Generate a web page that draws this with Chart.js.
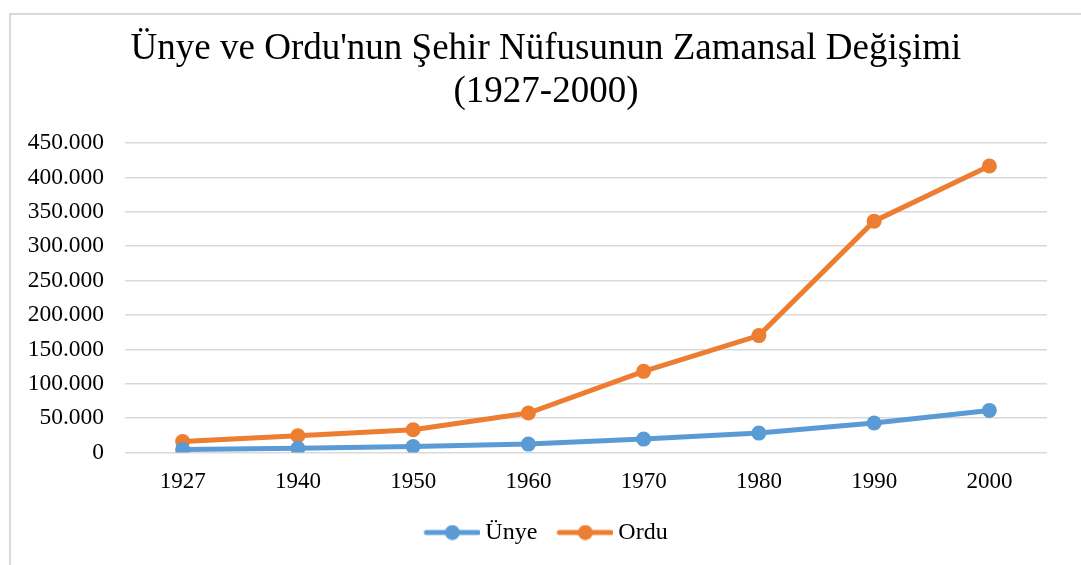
<!DOCTYPE html>
<html>
<head>
<meta charset="utf-8">
<script src="https://cdn.jsdelivr.net/npm/chart.js@4"></script>
<style>
  body { margin: 0; background: #fff; overflow: hidden; }
  #frame { position: absolute; left: 9px; top: 13px; width: 1072px; height: 552px;
           border-left: 2px solid #d9d9d9; border-top: 2px solid #d9d9d9; }
  #c { display: block; }
</style>
</head>
<body>
<div id="frame"><canvas id="c" width="1070" height="550"></canvas></div>
<script>
// data
const years = ['1927', '1940', '1950', '1960', '1970', '1980', '1990', '2000'];
const unye = [4500, 6000, 8700, 12200, 19500, 28200, 42800, 61200];
const ordu = [16000, 24300, 33000, 57400, 118000, 170000, 336400, 416500];
const titleLines = ["Ünye ve Ordu'nun Şehir Nüfusunun Zamansal Değişimi", '(1927-2000)'];

const BLUE = '#5b9bd5';
const ORANGE = '#ed7d31';
const serif = '"Liberation Serif", "Times New Roman", serif';

// line + dot legend marker
function legendMark(color) {
  const cv = document.createElement('canvas');
  cv.width = 63; cv.height = 16;
  const g = cv.getContext('2d');
  g.strokeStyle = color; g.lineWidth = 5; g.lineCap = 'round';
  g.beginPath(); g.moveTo(9, 8); g.lineTo(61, 8); g.stroke();
  g.fillStyle = color;
  g.beginPath(); g.arc(35, 8, 7.5, 0, Math.PI * 2); g.fill();
  return cv;
}

function dots(v) {
  return String(v).replace(/\B(?=(\d{3})+(?!\d))/g, '.');
}

const ctx = document.getElementById('c').getContext('2d');
new Chart(ctx, {
  type: 'line',
  data: {
    labels: years,
    datasets: [
      { label: 'Ünye', data: unye, borderColor: BLUE, backgroundColor: BLUE, borderWidth: 5,
        pointRadius: 7.5, pointHoverRadius: 7.5, pointBorderWidth: 0, tension: 0 },
      { label: 'Ordu', data: ordu, borderColor: ORANGE, backgroundColor: ORANGE, borderWidth: 5,
        pointRadius: 7.5, pointHoverRadius: 7.5, pointBorderWidth: 0, tension: 0 }
    ]
  },
  options: {
    responsive: false,
    animation: false,
    layout: { padding: { left: 0, right: 0, top: 0, bottom: 10.5 } },
    plugins: {
      title: {
        display: true, text: titleLines, color: '#000',
        font: { family: serif, size: 37, weight: 'normal', lineHeight: 43 / 37 },
        padding: { top: 12.5, bottom: 29.5 }
      },
      legend: {
        position: 'bottom',
        labels: {
          color: '#000', font: { family: serif, size: 24 }, padding: 20,
          usePointStyle: true, pointStyleWidth: 49,
          generateLabels: chart => chart.data.datasets.map((ds, i) => ({
            text: ds.label, datasetIndex: i, pointStyle: legendMark(ds.borderColor),
            fillStyle: ds.borderColor, strokeStyle: ds.borderColor, lineWidth: 0, hidden: false
          }))
        }
      },
      tooltip: { enabled: false }
    },
    scales: {
      x: {
        offset: true,
        grid: { display: false },
        border: { display: false },
        ticks: { color: '#000', font: { family: serif, size: 23 }, padding: 8, maxRotation: 0 },
        afterFit: s => { s.height = 48; }
      },
      y: {
        min: 0, max: 450000,
        grid: { color: '#d9d9d9', lineWidth: 1.5, drawTicks: false },
        border: { display: false },
        ticks: { stepSize: 50000, color: '#000', font: { family: serif, size: 23.5 }, padding: 21,
                 callback: v => dots(v) },
        afterFit: s => { s.width = 114; }
      },
      // empty right-hand margin so title and legend centre like the original
      pad: {
        type: 'linear', position: 'right',
        grid: { display: false }, border: { display: false },
        ticks: { display: false },
        afterFit: s => { s.width = 34; }
      }
    }
  }
});
</script>
</body>
</html>
